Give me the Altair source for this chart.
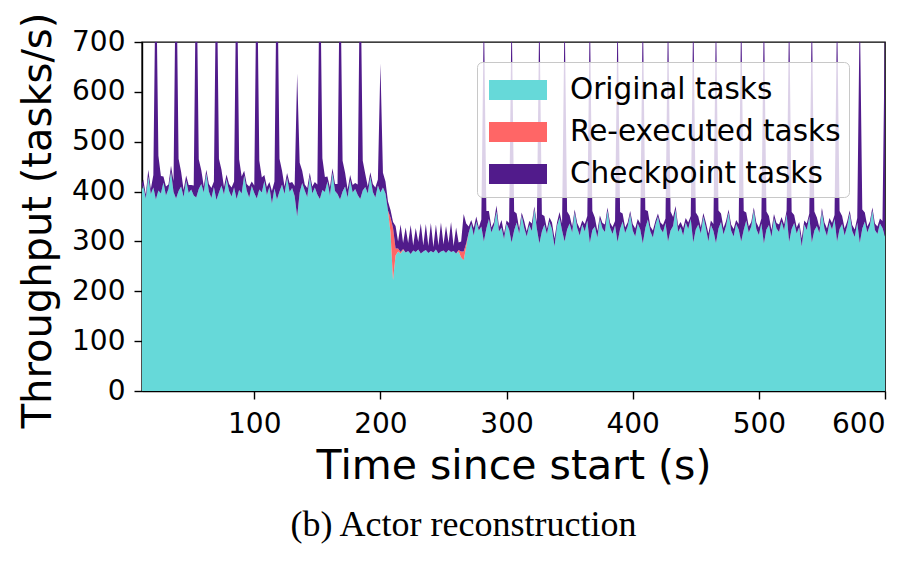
import altair as alt
import pandas as pd

# x sampling grid (seconds since start)
time = list(range(10, 601, 2))

# Original tasks (throughput, tasks/s)
orig_a = [398, 412, 386, 430, 395, 408, 384, 402, 396, 418,
          392, 405, 440, 399, 386, 401, 410, 389, 422, 397,
          404, 392, 388, 405, 415, 398, 436, 400, 387, 409,
          383, 398, 412, 394, 425, 401, 390, 408, 385, 403,
          396, 432, 402, 388, 411, 397, 386, 404, 398, 421,
          393, 409, 376, 406, 384, 400, 414, 395, 428, 399,
          407, 391, 350, 398, 417, 402, 389, 430, 396, 408,
          394, 385, 403, 399, 420, 392, 438, 401, 395, 384,
          400, 410, 388, 423, 398, 405, 393, 385, 402, 409,
          396, 430, 399, 388, 412, 398, 408, 396, 362]
orig_b = [318, 222, 272, 280, 276, 283, 278, 281, 275, 282,
          279, 284, 276, 280, 283, 277, 281, 278, 284, 276,
          280, 282, 277, 283, 279, 281, 276, 280, 268, 262,
          290]
orig_c = [318, 335, 312, 340, 322, 330, 300, 326, 345, 318,
          332, 360, 320, 328, 305, 336, 324, 298, 322, 338,
          316, 352, 327, 310, 333, 321, 365, 326, 296, 320,
          334, 315, 340, 325, 290, 331, 348, 322, 300, 324,
          336, 318, 358, 327, 312, 334, 320, 342, 297, 323,
          330, 308, 345, 326, 319, 362, 328, 315, 332, 299,
          325, 340, 317, 330, 355, 322, 310, 336, 324, 296,
          327, 344, 320, 308, 333, 350, 326, 318, 337, 300,
          322, 331, 364, 319, 329, 312, 338, 325, 345, 298,
          324, 334, 316, 350, 327, 300, 333, 321, 297, 326,
          339, 314, 331, 358, 322, 310, 335, 324, 300, 323,
          342, 318, 330, 362, 325, 313, 336, 296, 324, 333,
          309, 347, 326, 319, 340, 322, 355, 299, 325, 337,
          316, 329, 290, 334, 323, 350, 298, 322, 331, 317,
          360, 326, 311, 338, 324, 345, 300, 325, 335, 312,
          330, 356, 321, 309, 338, 297, 326, 340, 318, 332,
          362, 323, 315, 336, 327, 310]

# Checkpoint tasks
ck_a = [10, 12, 8, 14, 10, 25, 500, 70, 35, 12,
        18, 9, 12, 22, 520, 65, 30, 14, 10, 16,
        9, 20, 510, 60, 28, 12, 8, 15, 20, 11,
        515, 68, 32, 15, 9, 14, 18, 12, 505, 62,
        34, 10, 13, 22, 9, 15, 510, 58, 30, 12,
        16, 10, 25, 14, 520, 66, 28, 15, 9, 18,
        12, 20, 287, 60, 25, 12, 18, 8, 14, 11,
        20, 515, 64, 30, 10, 16, 9, 14, 20, 510,
        62, 28, 16, 10, 15, 12, 21, 505, 60, 26,
        14, 9, 16, 20, 12, 259, 30, 24, 18]
ck_b = [15, 12, 45, 14, 55, 12, 50, 16, 58, 10,
        48, 15, 60, 12, 52, 14, 56, 11, 50, 16,
        58, 12, 54, 14, 60, 10, 52, 15, 20, 75,
        40]
ck_c = [12, 8, 15, 10, 6, 14, 470, 35, 16, 10,
        7, 12, 9, 15, 11, 6, 13, 475, 38, 18,
        9, 6, 14, 10, 8, 15, 5, 12, 480, 34,
        17, 10, 8, 13, 16, 7, 11, 14, 470, 36,
        16, 12, 6, 10, 14, 8, 15, 9, 475, 38,
        18, 13, 7, 11, 15, 6, 10, 14, 9, 470,
        34, 16, 11, 8, 6, 13, 16, 9, 12, 480,
        36, 17, 10, 14, 8, 6, 12, 15, 9, 470,
        38, 18, 7, 12, 10, 15, 9, 13, 6, 475,
        34, 16, 12, 7, 11, 16, 9, 14, 470, 36,
        17, 13, 10, 6, 12, 15, 8, 11, 475, 38,
        16, 12, 9, 6, 13, 15, 10, 480, 36, 18,
        14, 8, 11, 15, 9, 12, 7, 470, 34, 16,
        12, 10, 16, 8, 13, 6, 475, 38, 17, 11,
        7, 12, 15, 9, 13, 8, 470, 36, 16, 14,
        10, 6, 12, 15, 9, 480, 38, 18, 12, 8,
        6, 13, 15, 10, 14, 440]

# Re-executed tasks (non-zero samples only)
reexec_times = [208, 210, 212, 214, 216, 218, 262, 264, 266, 268]
reexec_vals = [30, 105, 14, 6, 3, 2, 3, 12, 18, 6]

original = orig_a + orig_b + orig_c
checkpoint = ck_a + ck_b + ck_c
rx = dict(zip(reexec_times, reexec_vals))
reexec = [rx.get(t, 0) for t in time]
assert len(original) == len(time), len(original)
assert len(checkpoint) == len(time), len(checkpoint)

series_names = ["Original tasks", "Re-executed tasks", "Checkpoint tasks"]
colors = ["#66d9d9", "#ff6666", "#511b8b"]

rows = []
for k, (name, vals) in enumerate(zip(series_names, [original, reexec, checkpoint])):
    for t, v in zip(time, vals):
        rows.append({"t": t, "v": v, "s": name, "o": k})
df = pd.DataFrame(rows)

FONT = "DejaVu Sans"

chart = alt.Chart(df).mark_area(clip=True, interpolate="linear").encode(
    x=alt.X("t:Q",
            scale=alt.Scale(domain=[11, 600], nice=False, zero=False),
            axis=alt.Axis(values=[100, 200, 300, 400, 500, 600],
                          title="Time since start (s)",
                          labelPadding=11, titlePadding=8,
                          titleFontSize=41)),
    y=alt.Y("v:Q", stack="zero",
            scale=alt.Scale(domain=[0, 700], nice=False),
            axis=alt.Axis(values=[0, 100, 200, 300, 400, 500, 600, 700],
                          title="Throughput (tasks/s)",
                          labelPadding=9, titlePadding=13,
                          titleFontSize=40, titleY=178)),
    color=alt.Color("s:N",
                    scale=alt.Scale(domain=series_names, range=colors),
                    legend=alt.Legend(title=None, orient="none",
                                      legendX=335, legendY=20,
                                      symbolType="M-1.45,-0.5H1.45V0.5H-1.45Z",
                                      symbolSize=1600, symbolStrokeWidth=0,
                                      symbolOpacity=1, symbolOffset=13,
                                      labelFont=FONT, labelFontSize=29.5,
                                      labelColor="black", labelOffset=32,
                                      labelLimit=500,
                                      rowPadding=7,
                                      fillColor="rgba(255,255,255,0.8)",
                                      strokeColor="#c8c8c8",
                                      cornerRadius=5, padding=8)),
    order=alt.Order("o:Q", sort="ascending"),
).properties(
    width=743, height=349,
    background="white",
    autosize=alt.AutoSizeParams(type="none"),
    padding={"left": 134, "top": 34, "right": 30, "bottom": 162},
    title=alt.TitleParams("(b) Actor reconstruction", orient="bottom",
                          font="Liberation Serif", fontSize=36,
                          fontWeight="normal", color="black",
                          offset=22, dx=-50),
).configure_view(
    stroke="black", strokeWidth=1.4
).configure_axis(
    grid=False, domainColor="black", domainWidth=1.4,
    tickColor="black", tickWidth=1.4, tickSize=8,
    labelFont=FONT, labelFontSize=28, labelColor="black",
    titleFont=FONT, titleFontWeight="normal",
    titleColor="black"
)

chart.save("out.html", embed_options={"renderer": "svg", "actions": False})
